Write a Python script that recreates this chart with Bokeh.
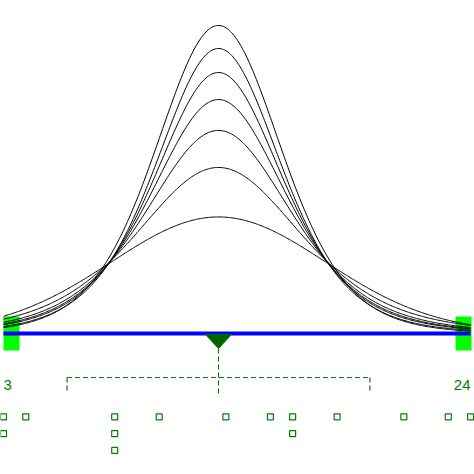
import numpy as np
from bokeh.plotting import figure
from bokeh.models import Range1d, ColumnDataSource, GlobalInlineStyleSheet
from bokeh.core.properties import value
from bokeh.embed import file_html
from bokeh.resources import INLINE

# ---- data ----
observations = [3, 3, 4, 8, 8, 8, 10, 13, 15, 16, 16, 18, 21, 23, 24]

# density curves (peak height, spread in x units, tail parameter), lowest to highest
curve_peak = [0.0815, 0.1161, 0.1420, 0.1636, 0.1825, 0.1993, 0.2154]
curve_scale = [4.90, 3.85, 3.39, 3.14, 2.98, 2.87, 2.88]
curve_tail = [50, 5, 5, 5, 5, 6, 8]

obs = np.array(observations, dtype=float)
lo, hi = obs.min(), obs.max()
mean = obs.mean()
sd = obs.std()

W = H = 474
px_per_unit = 22.24
x0 = 3 - 3 / px_per_unit
dens_per_px = 1 / 1430.0
base_px = 333

p = figure(width=W, height=H, output_backend="svg", toolbar_location=None,
           x_range=Range1d(x0, x0 + W / px_per_unit),
           y_range=Range1d(-(H - base_px) * dens_per_px, base_px * dens_per_px),
           min_border=0, outline_line_color=None)
p.extra_y_ranges = {"px": Range1d(start=H, end=0)}
p.axis.visible = False
p.xaxis.visible = False
p.yaxis.visible = False
p.grid.visible = False
p.background_fill_color = "white"
p.border_fill_color = "white"
p.stylesheets = [GlobalInlineStyleSheet(css="html, body {margin:0; padding:0; overflow:hidden;}")]

# min / max markers
rw = 16 / px_per_unit
p.quad(left=[lo, hi - rw + 1 / px_per_unit], right=[lo + rw, hi + 1 / px_per_unit],
       top=[316, 316], bottom=[350, 350], y_range_name="px",
       fill_color="#00ff00", line_color=None)

# density curves
xs = np.linspace(lo, hi, 400)
for pk, sc, nu in zip(curve_peak, curve_scale, curve_tail):
    z = (xs - mean) / sc
    ys = pk * (1 + z * z / nu) ** (-(nu + 1) / 2)
    p.line(xs, ys, line_color="black", line_width=1)

# range line
p.segment(x0=[lo], x1=[hi], y0=[base_px], y1=[base_px], y_range_name="px",
          line_color="blue", line_width=4, line_cap="butt")

# mean marker
tw = 13 / px_per_unit
p.patch(x=[mean - tw, mean + tw, mean], y=[334, 334, 348], y_range_name="px",
        fill_color="#006400", line_color="#007000", line_width=1)

# mean +/- sd whisker
dash = "5 3"
p.segment(x0=[mean - sd], x1=[mean + sd], y0=[377], y1=[377], y_range_name="px",
          line_color="green", line_width=1.2, line_dash=dash)
p.segment(x0=[mean - sd, mean + sd], x1=[mean - sd, mean + sd], y0=[377, 377], y1=[392, 392],
          y_range_name="px", line_color="green", line_width=1.2, line_dash=dash)
p.segment(x0=[mean], x1=[mean], y0=[348], y1=[393], y_range_name="px",
          line_color="green", line_width=1.2, line_dash=dash)

# min / max labels
p.text(x=[lo], y=[384], text=[str(int(lo))], y_range_name="px", text_align="left",
       text_baseline="alphabetic", text_color="green", text_font=value("Liberation Sans"),
       text_font_size="15px")
p.text(x=[hi], y=[384], text=[str(int(hi))], y_range_name="px", text_align="right",
       text_baseline="alphabetic", text_color="green", text_font=value("Liberation Sans"),
       text_font_size="15px")

# dot plot of observations
counts = {}
dx, dy = [], []
for v in observations:
    i = counts.get(v, 0)
    counts[v] = i + 1
    dx.append(v)
    dy.append(416.3 + 16.8 * i)
p.scatter(x=dx, y=dy, y_range_name="px", marker="square", size=6,
          fill_color=None, line_color="green", line_width=1.2)

open("out.html", "w").write(file_html(p, INLINE))
